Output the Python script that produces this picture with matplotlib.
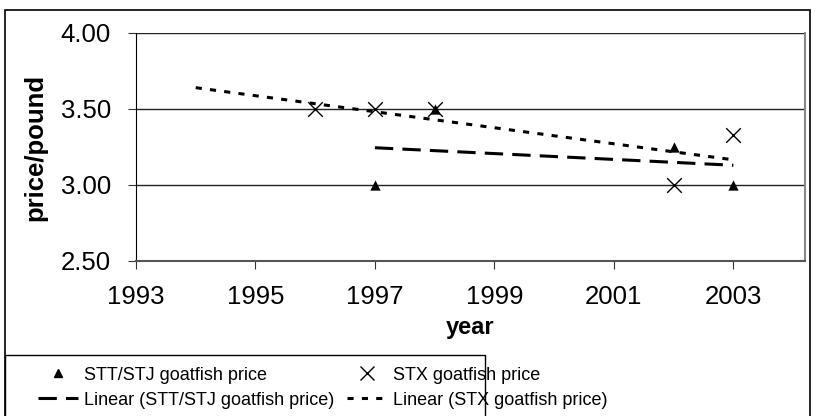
import matplotlib.pyplot as plt
import numpy as np
from matplotlib.patches import Rectangle
from matplotlib.lines import Line2D

# data
stt_years = [1997, 1998, 2002, 2003]
stt_price = [3.00, 3.50, 3.25, 3.00]
stx_years = [1996, 1997, 1998, 2002, 2003]
stx_price = [3.50, 3.50, 3.50, 3.00, 3.33]
x_ticks = [1993, 1995, 1997, 1999, 2001, 2003]
y_ticks = [2.50, 3.00, 3.50, 4.00]

plt.rcParams['font.family'] = ['Liberation Sans', 'DejaVu Sans']

fig = plt.figure(figsize=(8.16, 4.16), dpi=100)
W, H = 816, 416
ax = fig.add_axes([136 / W, 1 - 261 / H, (805 - 136) / W, (261 - 33) / H])

STT_DASH = (6, 3)
STX_DASH = (2, 2.7)

# linear trend lines (Excel style), STX one forecast back 2 years
p_stt = np.polyfit(stt_years, stt_price, 1)
xs_stt = np.array([min(stt_years), max(stt_years)])
ax.plot(xs_stt, np.polyval(p_stt, xs_stt), color='black', lw=2.2,
        dashes=STT_DASH, zorder=3)
p_stx = np.polyfit(stx_years, stx_price, 1)
xs_stx = np.array([min(stx_years) - 2, max(stx_years)])
ax.plot(xs_stx, np.polyval(p_stx, xs_stx), color='black', lw=2.2,
        dashes=STX_DASH, zorder=3)

ax.scatter(stt_years, stt_price, marker='^', s=55, color='black', zorder=4,
           linewidths=0)
ax.scatter(stx_years, stx_price, marker='x', s=110, color='black', zorder=4,
           linewidths=1.0)

ax.set_xlim(1993, 2004.2)
ax.set_ylim(2.5, 4.0)
ax.set_xticks(x_ticks)
ax.set_yticks(y_ticks)
ax.set_yticklabels(['%.2f' % v for v in y_ticks])
ax.tick_params(labelsize=18.5, length=6, width=0.8, color='#333333')
ax.tick_params(axis='y', pad=12)
ax.tick_params(axis='x', pad=11)
for v in y_ticks[1:]:
    ax.axhline(v, color='#222222', lw=1.0, zorder=1)
ax.spines['left'].set_color('black')
ax.spines['bottom'].set_color('#555555')
ax.spines['bottom'].set_linewidth(1.5)
ax.spines['top'].set_visible(False)
ax.spines['right'].set_color('#888888')
ax.spines['right'].set_linewidth(1.5)

ax.set_xlabel('year', fontsize=17, fontweight='bold', labelpad=5)
ax.set_ylabel('price/pound', fontsize=18.5, fontweight='bold', labelpad=10)

# outer chart border and legend box
fig.patches.append(Rectangle((5 / W, -0.05), (810 - 5) / W, 1.05 - 10 / H,
                             transform=fig.transFigure, fill=False,
                             edgecolor='black', lw=1.2))
fig.patches.append(Rectangle((5 / W, -0.05), (485 - 5) / W, 0.05 + (416 - 355) / H,
                             transform=fig.transFigure, fill=False,
                             edgecolor='black', lw=1.0))

handles = [
    Line2D([], [], ls='none', marker='^', color='black', markersize=6),
    Line2D([], [], color='black', lw=2.2, dashes=STT_DASH),
    Line2D([], [], ls='none', marker='x', color='black', markersize=10,
           markeredgewidth=1.0),
    Line2D([], [], color='black', lw=2.2, dashes=STX_DASH),
]
labels = ['STT/STJ goatfish price', 'Linear (STT/STJ goatfish price)',
          'STX goatfish price', 'Linear (STX goatfish price)']
fig.legend(handles, labels, loc='lower left',
           bbox_to_anchor=(22 / W, -9 / H), ncol=2, frameon=False,
           fontsize=13, handlelength=2.2, handletextpad=0.35,
           columnspacing=0.7, labelspacing=0.45)

fig.savefig('out.png', dpi=100)
